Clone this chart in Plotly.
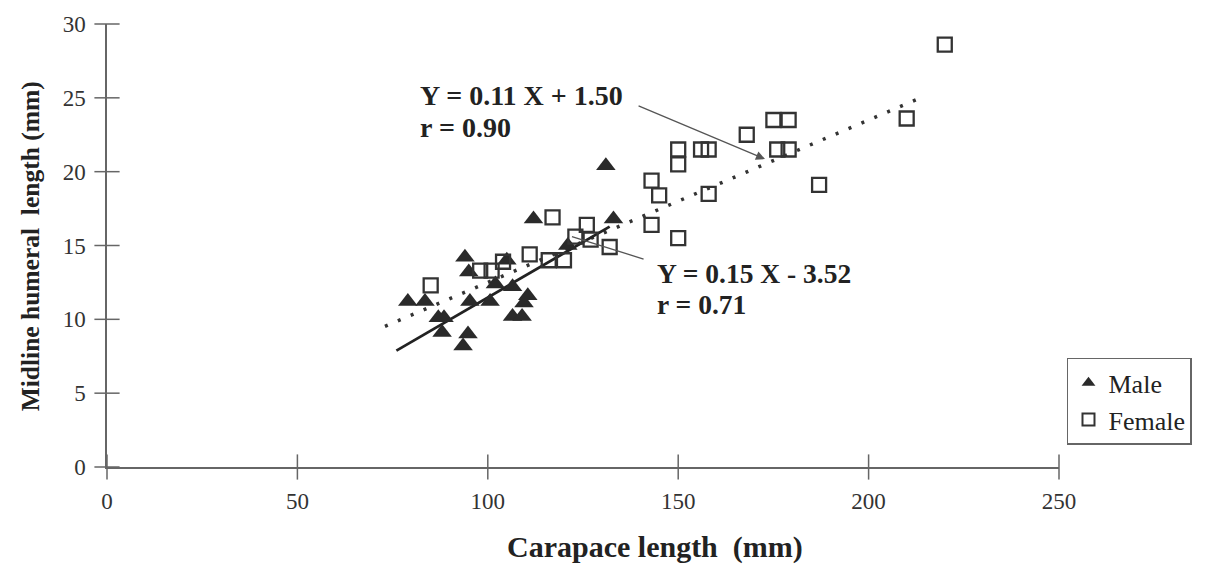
import plotly.graph_objects as go

# ---- data ----
male_x = [79, 83.5, 87, 88.5, 88, 93.5, 94.8, 94, 95, 95.3, 100.6, 102, 105, 106.5,
          106.5, 109, 109.5, 110.5, 112, 121, 131, 133]
male_y = [11.2, 11.2, 10.1, 10.1, 9.1, 8.2, 9.0, 14.2, 13.2, 11.2, 11.2, 12.4, 14.0, 12.2,
          10.2, 10.2, 11.1, 11.6, 16.8, 15.0, 20.4, 16.8]

female_x = [85, 98, 101, 104, 111, 117, 116, 120, 123, 126, 127, 132, 143, 143, 145,
            150, 150, 150, 156, 158, 158, 168, 175, 179, 176, 179, 187, 210, 220]
female_y = [12.3, 13.3, 13.3, 13.9, 14.4, 16.9, 14.0, 14.0, 15.6, 16.4, 15.4, 14.9, 19.4, 16.4, 18.4,
            21.5, 20.5, 15.5, 21.5, 21.5, 18.5, 22.5, 23.5, 23.5, 21.5, 21.5, 19.1, 23.6, 28.6]

x_ticks = [0, 50, 100, 150, 200, 250]
y_ticks = [0, 5, 10, 15, 20, 25, 30]

# regression equations shown on the chart: (slope, intercept) and x extent
female_fit = (0.11, 1.50)
female_fit_x = [73, 214]
male_fit = (0.15, -3.52)
male_fit_x = [76, 132]

FONT = "Liberation Serif"
AXC = "#666666"
INK = "#2a2a2a"

fig = go.Figure()

# fitted lines
fig.add_trace(go.Scatter(
    x=female_fit_x, y=[female_fit[0] * v + female_fit[1] for v in female_fit_x],
    mode="lines", line=dict(color="#333333", width=3.5, dash="3px,11px"),
    showlegend=False, hoverinfo="skip"))
fig.add_trace(go.Scatter(
    x=male_fit_x, y=[male_fit[0] * v + male_fit[1] for v in male_fit_x],
    mode="lines", line=dict(color="#222222", width=2.8),
    showlegend=False, hoverinfo="skip"))

fig.add_trace(go.Scatter(
    x=male_x, y=male_y, mode="markers", name="Male",
    marker=dict(symbol="triangle-up", size=17, color=INK, line=dict(width=0))))
fig.add_trace(go.Scatter(
    x=female_x, y=female_y, mode="markers", name="Female",
    marker=dict(symbol="square-open", size=14, color="#333333", line=dict(width=2.3))))

# crossing tick marks (drawn centred on the axis lines)
fig.add_trace(go.Scatter(x=x_ticks, y=[0] * len(x_ticks), mode="markers",
                         marker=dict(symbol="line-ns", size=18, line=dict(width=1.5, color=AXC)),
                         cliponaxis=False, showlegend=False, hoverinfo="skip"))
fig.add_trace(go.Scatter(x=[0] * len(y_ticks), y=y_ticks, mode="markers",
                         marker=dict(symbol="line-ew", size=18, line=dict(width=1.5, color=AXC)),
                         cliponaxis=False, showlegend=False, hoverinfo="skip"))

axis_common = dict(showgrid=False, zeroline=False, showline=True, linecolor=AXC,
                   linewidth=1.5, ticks="",
                   tickfont=dict(family=FONT, size=23, color="#333333"))

fig.update_layout(
    width=1214, height=570,
    margin=dict(l=107, r=155, t=21, b=103),
    paper_bgcolor="white", plot_bgcolor="white",
    xaxis=dict(range=[0, 250], tickvals=x_ticks, ticklabelstandoff=13, **axis_common),
    yaxis=dict(range=[0, 30], tickvals=y_ticks, ticklabelstandoff=15, **axis_common),
    legend=dict(x=1.0084, y=0.2466, xanchor="left", yanchor="top",
                bgcolor="white", bordercolor=AXC, borderwidth=1.5,
                font=dict(family=FONT, size=26, color="#222222"),
                itemsizing="constant", tracegroupgap=0, itemwidth=30),
    showlegend=True,
)

annotations = [
    dict(x=81.7, y=25.15, text="<b>Y = 0.11 X + 1.50</b>", font_size=28),
    dict(x=81.7, y=23.0, text="<b>r = 0.90</b>", font_size=28),
    dict(x=143.9, y=13.1, text="<b>Y = 0.15 X - 3.52</b>", font_size=27.5),
    dict(x=143.9, y=11.0, text="<b>r = 0.71</b>", font_size=27.5),
]
for a in annotations:
    fs = a.pop("font_size")
    fig.add_annotation(xref="x", yref="y", xanchor="left", yanchor="middle",
                       showarrow=False,
                       font=dict(family=FONT, size=fs, color="#222222"), **a)

# pointer arrows
fig.add_annotation(x=172.8, y=20.85, ax=139.2, ay=24.5, xref="x", yref="y",
                   axref="x", ayref="y", text="", showarrow=True, arrowhead=2,
                   arrowsize=1.4, arrowwidth=1.3, arrowcolor="#555555")
fig.add_annotation(x=122.1, y=15.6, ax=141.3, ay=14.05, xref="x", yref="y",
                   axref="x", ayref="y", text="", showarrow=True, arrowhead=0,
                   arrowwidth=1.3, arrowcolor="#555555")

# axis titles
fig.add_annotation(x=0.5756, y=-0.1816, xref="paper", yref="paper",
                   text="<b>Carapace length  (mm)</b>", showarrow=False,
                   font=dict(family=FONT, size=30, color="#222222"),
                   xanchor="center", yanchor="middle")
fig.add_annotation(x=-0.0809, y=0.498, xref="paper", yref="paper",
                   text="<b>Midline humeral  length (mm)</b>", showarrow=False,
                   textangle=-90, font=dict(family=FONT, size=25.5, color="#222222"),
                   xanchor="center", yanchor="middle")

fig.write_html("out.html")
